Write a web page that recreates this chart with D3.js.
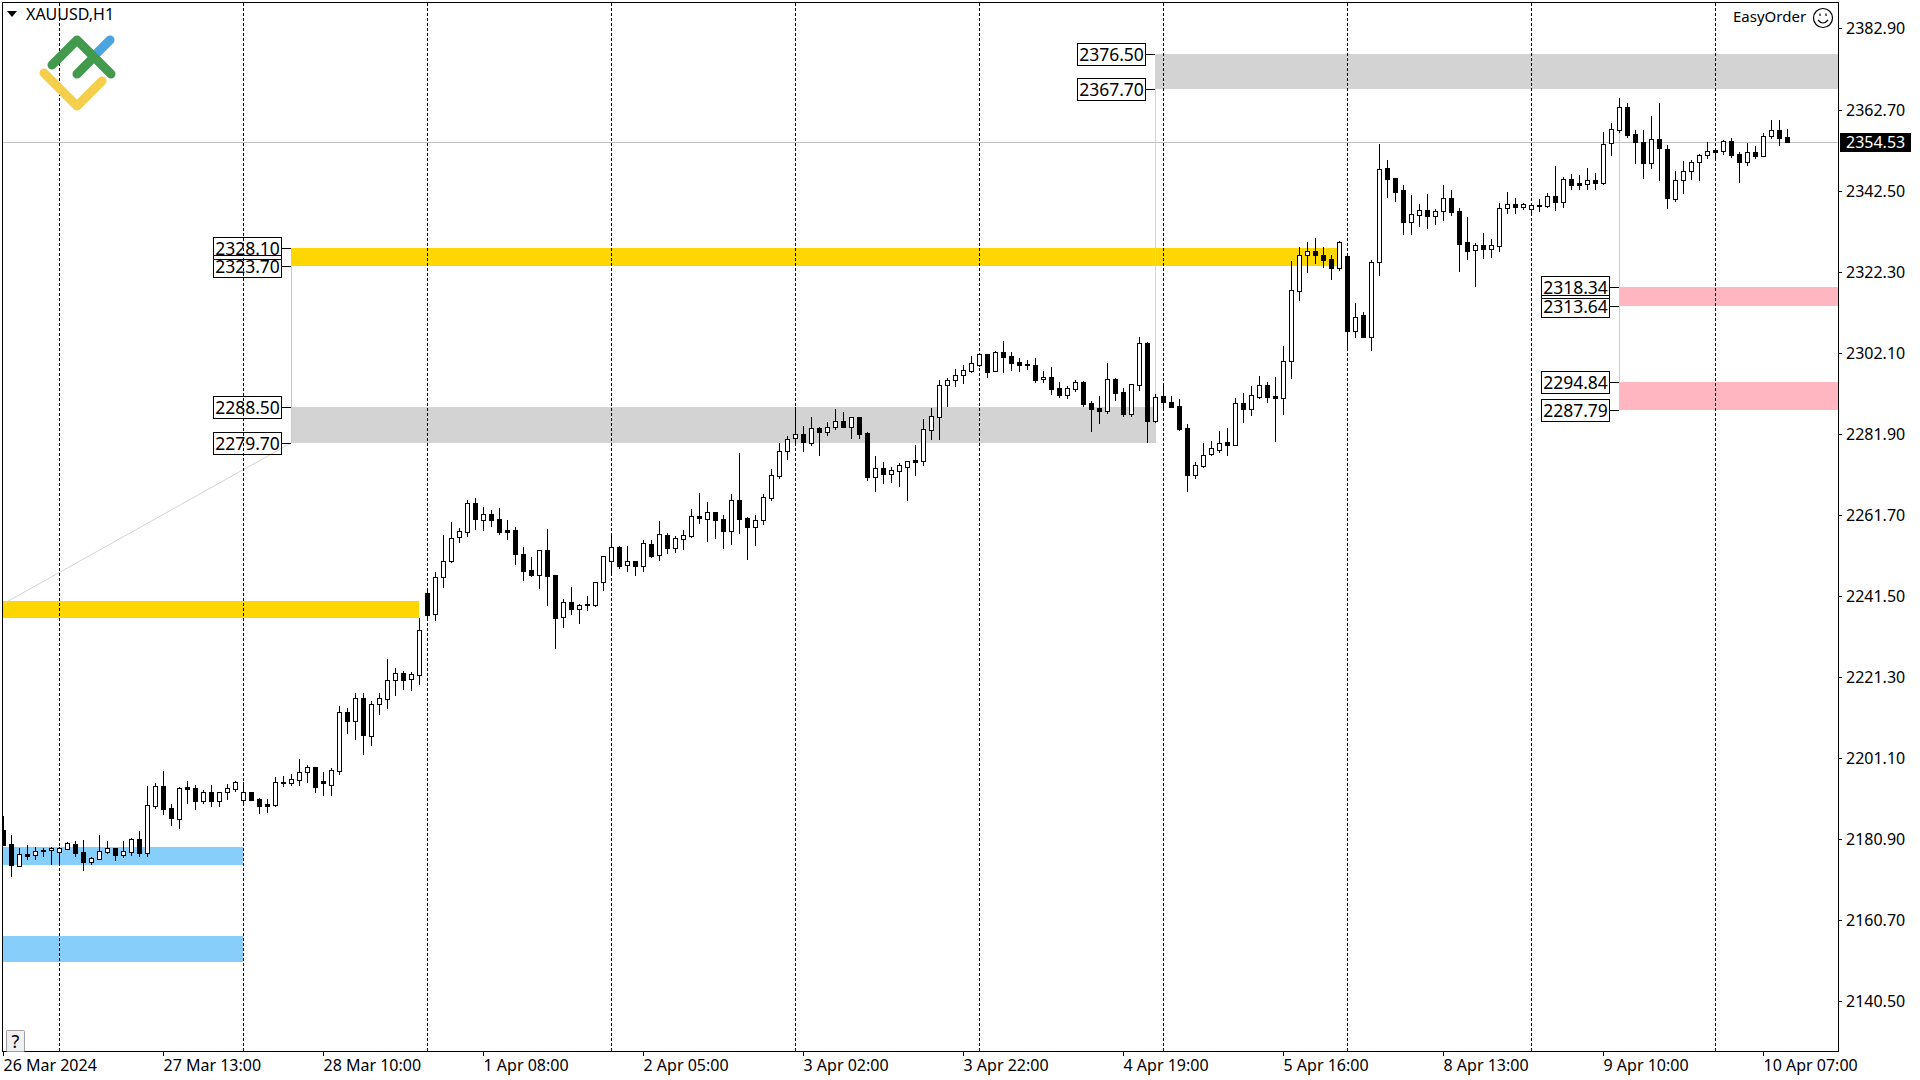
<!DOCTYPE html>
<html>
<head>
<meta charset="utf-8">
<title>XAUUSD,H1</title>
<script src="https://cdn.jsdelivr.net/npm/d3@7"></script>
<style>
  html, body { margin: 0; padding: 0; background: #fff; }
  svg { display: block; }
  text { font-family: "Noto Sans", sans-serif; fill: #000; }
</style>
</head>
<body>
<svg id="chart" width="1920" height="1080"></svg>
<script>
"use strict";

const opens = [
  2183.1,2179.6,2174.1,2177.1,2176.9,2178.1,2178.1,2177.6,2178.4,2179.6,
  2177.6,2175.1,2175.9,2177.6,2178.6,2176.9,2177.6,2180.9,2177.4,2189.1,
  2194.1,2188.6,2185.9,2193.8,2193.6,2190.4,2192.6,2190.4,2192.6,2193.3,
  2190.6,2192.6,2190.8,2189.6,2189.4,2195.1,2194.8,2195.6,2197.6,2198.8,
  2195.3,2194.3,2197.8,2212.5,2210.3,2216.0,2206.6,2214.5,2215.8,2220.5,
  2222.3,2220.8,2221.8,2242.2,2237.0,2246.2,2250.2,2256.2,2257.4,2264.6,
  2260.4,2261.9,2260.6,2257.9,2257.9,2251.9,2247.9,2246.7,2252.9,2246.7,
  2236.2,2240.0,2238.2,2239.5,2239.2,2244.9,2250.2,2253.7,2249.2,2250.2,
  2248.9,2254.4,2251.7,2256.7,2253.4,2255.7,2256.4,2261.4,2260.6,2262.4,
  2260.6,2257.6,2265.4,2260.9,2258.6,2260.4,2265.9,2271.4,2277.6,2280.8,
  2281.8,2279.6,2283.3,2282.3,2283.6,2285.1,2283.6,2286.1,2282.1,2271.1,
  2273.4,2271.9,2272.6,2273.6,2275.3,2275.1,2282.8,2286.1,2294.0,2295.3,
  2296.5,2297.5,2299.0,2301.8,2297.5,2302.3,2301.3,2299.8,2299.3,2299.0,
  2295.5,2296.0,2293.3,2291.5,2293.0,2294.8,2289.6,2288.3,2287.6,2295.5,
  2292.3,2286.8,2294.0,2304.5,2285.1,2291.3,2289.8,2288.8,2283.3,2271.6,
  2273.9,2276.8,2277.8,2279.8,2279.1,2289.6,2288.1,2291.0,2294.0,2291.3,
  2290.8,2300.0,2317.5,2326.4,2327.4,2326.4,2325.4,2323.2,2326.2,2307.5,
  2311.5,2306.0,2324.7,2348.1,2345.6,2342.6,2334.7,2336.4,2337.7,2336.2,
  2337.4,2340.6,2337.4,2329.7,2327.7,2328.9,2327.9,2328.7,2338.2,2339.2,
  2338.4,2337.9,2338.9,2338.7,2341.1,2339.7,2345.4,2344.4,2344.1,2345.1,
  2344.4,2354.4,2357.6,2363.3,2356.6,2354.6,2349.4,2355.4,2352.9,2340.4,
  2345.1,2347.4,2349.6,2351.4,2352.6,2352.4,2354.9,2351.6,2349.6,2352.1,
  2351.1,2356.1,2357.6,2355.9
];

const highs = [
  2186.6,2181.9,2178.6,2179.4,2178.9,2178.6,2178.9,2178.9,2180.1,2180.4,
  2180.6,2176.4,2181.9,2180.4,2178.6,2180.4,2181.1,2182.9,2194.1,2194.8,
  2197.8,2189.6,2193.8,2195.3,2194.3,2193.1,2194.3,2192.6,2194.6,2195.3,
  2195.1,2192.6,2191.1,2190.8,2196.3,2196.6,2197.1,2200.8,2199.3,2198.8,
  2197.6,2198.6,2214.0,2213.5,2217.3,2217.3,2215.3,2217.3,2225.7,2223.5,
  2222.8,2222.5,2236.0,2243.2,2247.4,2256.7,2259.9,2258.4,2265.4,2265.9,
  2263.6,2262.9,2263.4,2260.4,2258.6,2253.7,2251.2,2252.9,2258.1,2246.7,
  2240.7,2243.7,2239.5,2241.4,2244.9,2251.4,2256.4,2253.9,2253.9,2250.2,
  2255.4,2255.4,2260.1,2257.1,2256.4,2257.9,2263.1,2267.1,2264.9,2262.4,
  2261.6,2266.9,2277.1,2261.1,2261.6,2266.9,2273.1,2279.6,2281.3,2288.6,
  2283.8,2286.1,2283.6,2284.8,2288.1,2287.3,2286.1,2286.1,2282.3,2276.3,
  2274.8,2273.6,2274.6,2275.1,2279.1,2285.6,2288.3,2295.3,2295.8,2298.0,
  2299.0,2301.3,2301.8,2301.8,2302.5,2305.0,2302.3,2300.8,2300.3,2300.8,
  2297.5,2298.5,2294.8,2293.8,2295.3,2295.0,2290.1,2291.3,2299.5,2295.8,
  2293.3,2294.3,2306.0,2304.8,2291.8,2293.8,2291.3,2290.6,2284.3,2274.8,
  2279.6,2280.1,2282.6,2283.3,2290.8,2292.0,2293.8,2296.3,2294.8,2296.0,
  2303.8,2324.9,2328.4,2329.7,2330.7,2328.4,2326.4,2329.9,2326.2,2314.5,
  2312.2,2325.2,2354.1,2350.1,2345.6,2343.9,2341.4,2339.2,2341.6,2337.9,
  2343.9,2342.6,2338.2,2335.9,2329.4,2331.9,2330.4,2339.4,2342.1,2340.6,
  2339.4,2338.9,2340.4,2341.9,2348.6,2345.9,2346.6,2346.4,2348.1,2346.9,
  2357.1,2359.3,2365.6,2364.3,2357.6,2357.6,2361.1,2364.3,2353.9,2347.4,
  2349.9,2350.1,2351.6,2354.6,2352.6,2355.1,2355.6,2352.1,2354.4,2353.6,
  2356.9,2360.1,2360.1,2357.8
];

const lows = [
  2179.4,2171.7,2174.1,2175.9,2175.9,2176.6,2174.6,2175.1,2178.4,2176.6,
  2173.1,2174.6,2175.9,2177.4,2175.6,2176.4,2176.9,2176.6,2176.6,2188.6,
  2187.1,2184.4,2183.6,2189.9,2188.4,2189.9,2189.1,2189.1,2190.8,2192.8,
  2189.9,2190.6,2187.4,2187.6,2189.1,2194.1,2194.3,2194.3,2195.1,2192.6,
  2191.8,2191.8,2197.1,2207.3,2205.8,2202.1,2204.3,2212.0,2213.5,2216.8,
  2218.3,2218.0,2219.5,2236.0,2235.5,2243.7,2249.9,2254.9,2256.4,2258.1,
  2257.9,2258.9,2256.9,2255.7,2249.4,2245.4,2246.4,2243.4,2239.2,2228.5,
  2233.7,2237.0,2234.7,2238.0,2239.0,2242.9,2246.7,2248.4,2247.7,2246.7,
  2247.7,2251.2,2250.4,2252.2,2252.4,2253.2,2256.2,2259.6,2255.2,2255.9,
  2253.4,2254.4,2257.1,2250.7,2254.2,2259.4,2265.4,2270.9,2275.6,2279.8,
  2277.6,2279.1,2276.6,2281.6,2283.1,2283.6,2280.8,2280.8,2270.4,2267.6,
  2269.6,2269.9,2268.9,2265.4,2271.6,2274.1,2280.6,2280.6,2288.8,2293.8,
  2294.5,2297.3,2298.8,2296.0,2297.5,2297.3,2297.8,2297.5,2298.0,2294.8,
  2294.8,2291.8,2291.0,2290.8,2292.5,2288.8,2282.6,2284.6,2287.1,2290.3,
  2286.3,2286.3,2292.8,2279.8,2284.8,2288.3,2288.6,2282.8,2267.6,2270.9,
  2273.6,2276.6,2277.3,2276.6,2279.1,2284.8,2286.6,2290.8,2289.8,2280.1,
  2286.8,2295.8,2315.2,2322.2,2324.4,2323.5,2320.5,2322.7,2303.5,2306.0,
  2306.0,2302.8,2321.5,2340.9,2339.9,2331.7,2331.7,2333.7,2333.2,2334.2,
  2335.2,2336.4,2322.5,2325.4,2318.7,2325.7,2325.9,2327.4,2336.9,2336.9,
  2337.9,2336.4,2337.4,2338.4,2337.7,2338.4,2342.9,2342.9,2342.9,2342.9,
  2344.1,2351.4,2357.1,2355.9,2349.4,2345.6,2348.1,2345.1,2338.2,2339.9,
  2341.9,2345.4,2345.1,2350.6,2350.1,2351.6,2350.9,2344.6,2348.9,2350.6,
  2351.1,2355.6,2353.9,2354.53
];

const closes = [
  2179.4,2174.4,2177.1,2176.6,2177.9,2177.9,2178.6,2178.6,2179.9,2177.4,
  2175.1,2176.1,2177.9,2178.6,2176.9,2177.9,2180.9,2177.4,2189.4,2194.1,
  2188.4,2186.1,2193.6,2193.3,2190.4,2192.6,2190.4,2192.6,2193.6,2195.1,
  2192.6,2190.6,2189.1,2189.1,2195.1,2194.8,2195.8,2197.6,2198.8,2193.8,
  2194.8,2198.1,2212.5,2210.3,2216.0,2206.8,2214.5,2216.0,2220.5,2222.3,
  2220.5,2222.0,2233.0,2236.7,2246.2,2250.2,2255.9,2257.6,2264.6,2260.6,
  2261.9,2260.4,2257.4,2257.4,2251.9,2247.7,2246.7,2252.9,2246.4,2236.0,
  2240.0,2238.2,2239.2,2239.2,2244.9,2251.4,2253.7,2248.9,2250.2,2248.9,
  2254.7,2251.4,2256.9,2253.4,2255.9,2256.7,2261.4,2260.9,2262.4,2260.4,
  2257.6,2265.4,2260.6,2258.6,2260.4,2266.1,2271.6,2277.6,2280.6,2281.8,
  2279.8,2283.3,2282.3,2283.6,2285.1,2283.6,2286.1,2281.8,2271.1,2273.4,
  2271.9,2272.9,2274.1,2275.1,2274.8,2283.1,2286.3,2294.0,2295.3,2296.5,
  2297.8,2299.5,2301.8,2297.3,2302.3,2301.0,2299.5,2299.0,2299.0,2295.3,
  2296.0,2293.0,2291.5,2293.3,2294.8,2289.3,2288.1,2287.6,2295.5,2292.0,
  2286.8,2294.3,2304.5,2285.1,2291.0,2289.8,2288.6,2283.1,2271.6,2274.1,
  2276.6,2278.3,2279.6,2279.1,2289.6,2288.1,2291.5,2294.0,2291.0,2290.8,
  2300.0,2317.7,2326.4,2327.4,2326.4,2325.2,2323.2,2329.7,2307.5,2311.0,
  2306.0,2324.7,2347.9,2345.4,2342.1,2334.7,2336.7,2337.7,2336.2,2337.4,
  2340.6,2337.2,2329.2,2327.4,2328.9,2327.9,2328.9,2338.2,2339.2,2338.4,
  2339.2,2338.9,2338.7,2341.1,2339.7,2345.4,2343.9,2343.9,2345.1,2344.4,
  2354.1,2357.8,2363.3,2356.4,2354.6,2349.4,2355.4,2353.1,2340.6,2345.1,
  2347.4,2349.6,2351.4,2352.4,2352.1,2354.9,2351.4,2349.6,2352.1,2351.1,
  2356.1,2357.6,2355.6,2354.53
];

const priceTicks = [2382.9, 2362.7, 2342.5, 2322.3, 2302.1, 2281.9, 2261.7, 2241.5, 2221.3, 2201.1, 2180.9, 2160.7, 2140.5];
const timeBars = [0, 20, 40, 60, 80, 100, 120, 140, 160, 180, 200, 220];
const timeLabels = ['26 Mar 2024', '27 Mar 13:00', '28 Mar 10:00', '1 Apr 08:00', '2 Apr 05:00', '3 Apr 02:00',
  '3 Apr 22:00', '4 Apr 19:00', '5 Apr 16:00', '8 Apr 13:00', '9 Apr 10:00', '10 Apr 07:00'];
const separatorBars = [7, 30, 53, 76, 99, 122, 145, 168, 191, 214];

const zoneKinds = ['sky', 'sky', 'gold', 'gold', 'gray', 'gray', 'pink', 'pink'];
const zoneStart = [0, 0, 0, 36, 36, 144, 202, 202];
const zoneEnd = [30, 30, 52, 167, 144, 230, 230, 230];
const zoneHigh = [2156.6, 2178.8, 2240.1, 2328.1, 2288.5, 2376.5, 2318.34, 2294.84];
const zoneLow = [2150.1, 2174.3, 2235.9, 2323.7, 2279.7, 2367.7, 2313.64, 2287.79];
const zoneLabelled = [false, false, false, true, true, true, true, true];

const lastPrice = 2354.53;

const COLORS = { sky: '#87cefa', gold: '#ffd700', gray: '#d3d3d3', pink: '#ffb6c1' };

const svg = d3.select('#chart');

// price axis: 1 px is about a quarter of a dollar on this chart
const x = d3.scaleLinear().domain([0, 229.375]).range([3, 1838]);
const y = d3.scaleLinear().domain([2390, 2127.78]).rangeRound([0, 1052]);

svg.append('defs').append('clipPath').attr('id', 'plot')
  .append('rect').attr('x', 3).attr('y', 3).attr('width', 1835).attr('height', 1049);

const plot = svg.append('g').attr('clip-path', 'url(#plot)');

// zones
plot.append('g').selectAll('rect').data(zoneKinds).join('rect')
  .attr('x', (d, i) => x(zoneStart[i]))
  .attr('y', (d, i) => y(zoneHigh[i]))
  .attr('width', (d, i) => x(zoneEnd[i]) - x(zoneStart[i]))
  .attr('height', (d, i) => y(zoneLow[i]) - y(zoneHigh[i]))
  .attr('fill', (d) => COLORS[d]);

// stems joining the zone pairs
const stems = [
  { bar: 36, from: 2323.7, to: 2279.7, color: COLORS.gold },
  { bar: 144, from: 2367.7, to: 2279.7, color: COLORS.gray },
  { bar: 202, from: 2358, to: 2287.79, color: COLORS.pink }
];
plot.append('g').selectAll('line').data(stems).join('line')
  .attr('x1', (d) => x(d.bar) + 0.5).attr('x2', (d) => x(d.bar) + 0.5)
  .attr('y1', (d) => y(d.from)).attr('y2', (d) => y(d.to))
  .attr('stroke', (d) => d.color);

plot.append('line')
  .attr('x1', x(0)).attr('y1', y(2239.5))
  .attr('x2', x(36)).attr('y2', y(2279.7))
  .attr('stroke', COLORS.gray);

// last price line
plot.append('line')
  .attr('x1', 3).attr('x2', 1838)
  .attr('y1', y(lastPrice) + 0.5).attr('y2', y(lastPrice) + 0.5)
  .attr('stroke', '#c0c0c0');

// period separators
plot.append('g').selectAll('line').data(separatorBars).join('line')
  .attr('x1', (d) => x(d) + 0.5).attr('x2', (d) => x(d) + 0.5)
  .attr('y1', 3).attr('y2', 1052)
  .attr('stroke', '#000')
  .attr('stroke-dasharray', '3,2');

// candles
const candle = plot.append('g').selectAll('g').data(opens).join('g');

candle.append('line')
  .attr('x1', (d, i) => x(i) + 0.5).attr('x2', (d, i) => x(i) + 0.5)
  .attr('y1', (d, i) => y(highs[i])).attr('y2', (d, i) => y(lows[i]) + 1)
  .attr('stroke', '#000');

candle.append('rect')
  .attr('x', (d, i) => x(i) - 1.5)
  .attr('y', (d, i) => y(Math.max(d, closes[i])) + 0.5)
  .attr('width', 4)
  .attr('height', (d, i) => y(Math.min(d, closes[i])) - y(Math.max(d, closes[i])))
  .attr('fill', (d, i) => (closes[i] >= d ? '#fff' : '#000'))
  .attr('stroke', '#000');

// price labels on the zones
const boxes = [];
zoneKinds.forEach((kind, i) => {
  if (zoneLabelled[i]) {
    boxes.push({ bar: zoneStart[i], price: zoneHigh[i] });
    boxes.push({ bar: zoneStart[i], price: zoneLow[i] });
  }
});

const box = svg.append('g').selectAll('g').data(boxes).join('g');

box.append('line')
  .attr('x1', (d) => x(d.bar) - 10).attr('x2', (d) => x(d.bar))
  .attr('y1', (d) => y(d.price) + 0.5).attr('y2', (d) => y(d.price) + 0.5)
  .attr('stroke', '#000');

box.append('rect')
  .attr('x', (d) => x(d.bar) - 77.5)
  .attr('y', (d) => y(d.price) - 10.5)
  .attr('width', 68).attr('height', 22)
  .attr('fill', 'none')
  .attr('stroke', '#000');

box.append('text')
  .attr('x', (d) => x(d.bar) - 43.5)
  .attr('y', (d) => y(d.price) + 6.5)
  .attr('text-anchor', 'middle')
  .style('font-size', '17.5px')
  .text((d) => d.price.toFixed(2));

// frame and axes
svg.append('rect')
  .attr('x', 2.5).attr('y', 2.5).attr('width', 1836).attr('height', 1049)
  .attr('fill', 'none').attr('stroke', '#000');

const priceAxis = svg.append('g')
  .attr('transform', 'translate(1838,0)')
  .call(d3.axisRight(y).tickValues(priceTicks).tickFormat(d3.format('.2f')).tickSize(4).tickPadding(4));

const timeAxis = svg.append('g')
  .attr('transform', 'translate(0,1052)')
  .call(d3.axisBottom(x).tickValues(timeBars).tickFormat((d, i) => timeLabels[i]).tickSize(4).tickPadding(4));

priceAxis.select('.domain').remove();
timeAxis.select('.domain').remove();
priceAxis.selectAll('text').style('font-size', '16px');
timeAxis.selectAll('text').style('font-size', '16px').attr('text-anchor', 'start');
timeAxis.attr('font-family', null);
priceAxis.attr('font-family', null);

// last price tag
svg.append('rect')
  .attr('x', 1840).attr('y', y(lastPrice) - 9)
  .attr('width', 71).attr('height', 19)
  .attr('fill', '#000');
svg.append('text')
  .attr('x', 1846).attr('y', y(lastPrice) + 6)
  .style('font-size', '16px').style('fill', '#fff')
  .text(lastPrice.toFixed(2));

// symbol caption
svg.append('path').attr('d', 'M7,11H17L12,17Z').attr('fill', '#000');
svg.append('text').attr('x', 26).attr('y', 20).style('font-size', '16px').text('XAUUSD,H1');

// logo
const logo = svg.append('g')
  .attr('fill', 'none').attr('stroke-width', 9)
  .attr('stroke-linecap', 'round').attr('stroke-linejoin', 'round');
logo.append('path').attr('d', 'M93,57L110,40').attr('stroke', '#4ba3e0');
logo.append('path').attr('d', 'M52,65L77,40L111,74M77,74L92,59').attr('stroke', '#439a4c');
logo.append('path').attr('d', 'M44,73L77,106L102,81').attr('stroke', '#f4cf4b');

// EasyOrder badge
svg.append('text').attr('x', 1733).attr('y', 22).style('font-size', '15px').text('EasyOrder');
const smile = svg.append('g').attr('fill', 'none').attr('stroke', '#000').attr('stroke-width', 1.2);
smile.append('circle').attr('cx', 1823).attr('cy', 18).attr('r', 9.5);
smile.append('path').attr('d', 'M1818,20Q1823,26 1828,20');
smile.append('path').attr('d', 'M1820,13.5V16M1826,13.5V16');

// help button
svg.append('rect')
  .attr('x', 6.5).attr('y', 1030.5).attr('width', 18).attr('height', 21)
  .attr('rx', 1).attr('fill', '#f0f0f0').attr('stroke', '#a0a0a0');
svg.append('text')
  .attr('x', 15.5).attr('y', 1048).attr('text-anchor', 'middle')
  .style('font-size', '18px').text('?');
</script>
</body>
</html>
